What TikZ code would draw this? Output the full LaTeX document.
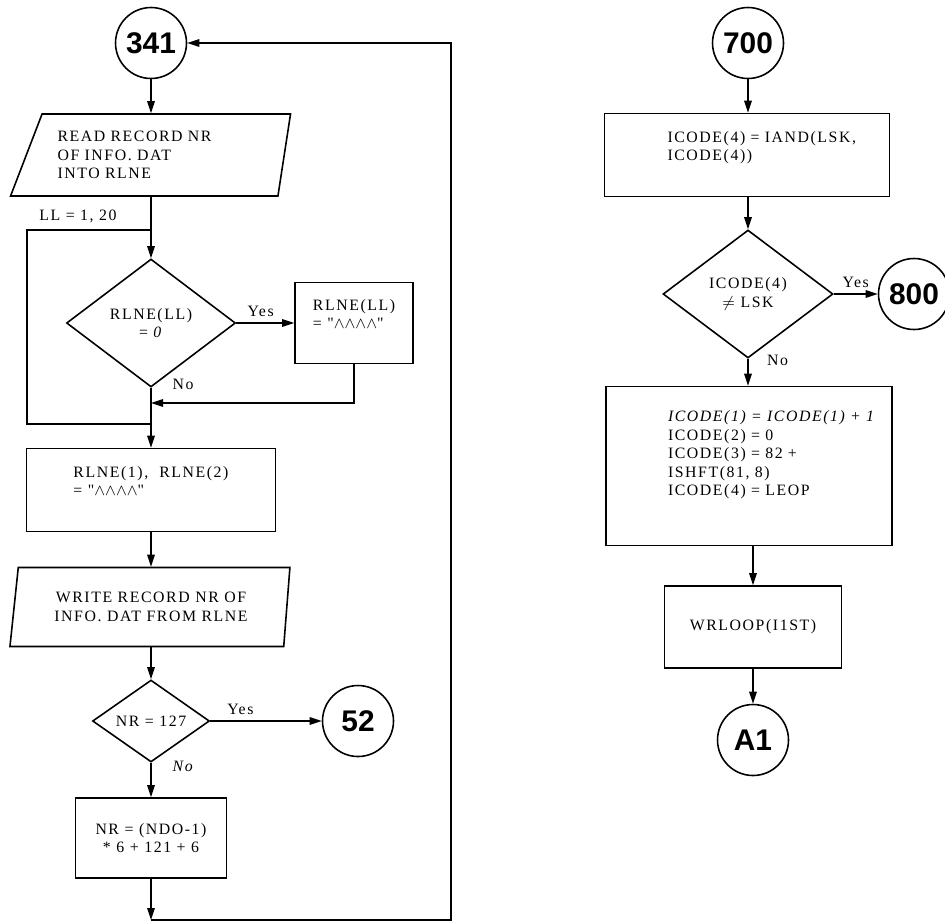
\documentclass[tikz,border=0pt]{standalone}
\usepackage{fontspec}
\setmainfont{Liberation Serif}[LetterSpace=10, Ligatures=TeXOff]
\newfontfamily\connfont{Liberation Sans}
\usetikzlibrary{shapes.geometric,arrows.meta}
\newcommand{\blanks}{$\mathord{\wedge}\mathord{\wedge}\mathord{\wedge}\mathord{\wedge}$}

\tikzset{
  >={Triangle[length=2.4mm,width=1.5mm]},
  conn/.style={circle, draw, minimum size=1.42cm, inner sep=0pt,
    font=\connfont\bfseries\fontsize{17}{17}\selectfont},
  proc/.style={rectangle, draw, align=left},
  io/.style={trapezium, draw, trapezium stretches body, align=left,
    inner xsep=0.1cm},
  test/.style={diamond, draw, align=center, inner sep=0pt},
}

\begin{document}
\begin{tikzpicture}[x=0.02cm, y=-0.02cm, line width=0.9pt,
    font=\fontsize{9}{10.5}\selectfont]
  \useasboundingbox (0,0) rectangle (945,923);

  % record loop, left column
  \node[conn] (c341) at (151,43) {341};
  \node[io, trapezium left angle=62, trapezium right angle=102,
    minimum width=5.6cm, minimum height=1.64cm, text width=4.1cm]
    (read) at (160,155) {READ RECORD NR\\OF INFO.\ DAT\\INTO RLNE};
  \node (ll) at (78,216) {LL = 1, 20};
  \node[test, minimum width=3.38cm, minimum height=2.56cm]
    (zero) at (151,323) {RLNE(LL)\\= \textit{0}};
  \node[proc, minimum width=2.36cm, minimum height=1.62cm]
    (blank) at (354,323) {RLNE(LL)\\= "\blanks"\\\mbox{}};
  \node[proc, minimum width=4.98cm, minimum height=1.66cm]
    (first) at (151,490) {RLNE(1),\ \ RLNE(2)\\= "\blanks"\\\mbox{}};
  \node[io, align=center, trapezium left angle=78.5, trapezium right angle=98.6,
    minimum width=5.6cm, minimum height=1.58cm]
    (write) at (151,607) {WRITE RECORD NR OF\\INFO.\ DAT FROM RLNE};
  \node[test, minimum width=2.34cm, minimum height=1.64cm]
    (last) at (151,721) {NR = 127};
  \node[conn] (c52) at (358,721) {52};
  \node[proc, align=center, minimum width=3.02cm, minimum height=1.6cm]
    (next) at (151,838) {NR = (NDO-1)\\* 6 + 121 + 6};

  \coordinate (loopl) at (27,327);
  \coordinate (looptop) at (151,230);
  \coordinate (loopbot) at (151,424);
  \coordinate (join) at (151,403);
  \coordinate (back) at (151,920);
  \coordinate (backr) at (451,920);

  \draw[->] (c341) -- (c341 |- read.north);
  \draw[->] (zero.north |- read.south) -- (zero);
  \draw (looptop) -| (loopl) |- (loopbot);
  \draw[->] (zero) -- node[above, pos=0.42] {Yes} (blank);
  \draw[->] (blank) |- (join);
  \draw[->] (zero) -- node[pos=0.02, right=0.3cm, yshift=0.1cm] {No} (first);
  \draw[->] (first) -- (first |- write.north);
  \draw[->] (last.north |- write.south) -- (last);
  \draw[->] (last) -- node[above, pos=0.27] {Yes} (c52);
  \draw[->] (last) -- node[pos=0.1, right=0.3cm] {\textit{No}} (next);
  \draw[->] (next) -- (back);
  \draw[->] (back) -- (backr) |- (c341);

  % ICODE update, right column
  \node[conn] (c700) at (748,43) {700};
  \node[proc, text width=3.18cm, inner xsep=1.26cm, minimum height=1.66cm]
    (mask) at (747,155) {ICODE(4)~=~IAND(LSK,\\ICODE(4))\\\mbox{}};
  \node[test, minimum width=3.4cm, minimum height=2.56cm]
    (diff) at (748,294) {ICODE(4)\\$\neq$ LSK};
  \node[conn] (c800) at (914,294) {800};
  \node[proc, text width=3.24cm, inner xsep=1.24cm, minimum height=3.18cm]
    (setc) at (749,466) {\textit{ICODE(1)~=~ICODE(1)~+~1}\\ICODE(2) = 0\\
      ICODE(3) = 82 +\\ISHFT(81, 8)\\ICODE(4) = LEOP\\[4pt]\mbox{}};
  \node[proc, minimum width=3.54cm, minimum height=1.64cm]
    (wrl) at (753,627) {WRLOOP(I1ST)};
  \node[conn] (ca1) at (753,740) {A1};

  \draw[->] (c700) -- (c700 |- mask.north);
  \draw[->] (mask.south -| diff) -- (diff);
  \draw[->] (diff) -- node[above] {Yes} (c800);
  \draw[->] (diff) -- node[pos=0.07, right=0.25cm] {No} (setc.north -| diff);
  \draw[->] (setc.south -| wrl) -- (wrl);
  \draw[->] (wrl) -- (ca1);
\end{tikzpicture}
\end{document}
